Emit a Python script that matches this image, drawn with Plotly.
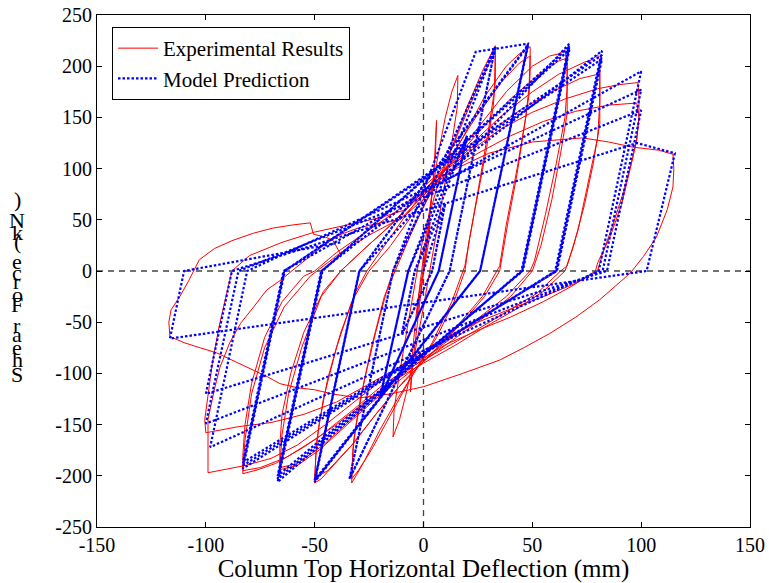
import plotly.graph_objects as go

# ---------------- data ----------------
x_ticks = [-150, -100, -50, 0, 50, 100, 150]
y_ticks = [-250, -200, -150, -100, -50, 0, 50, 100, 150, 200, 250]

exp_small = [(0, 0), (1.5, 25), (3, 48), (2.5, 30), (0.5, 5), (-1.5, -22), (-3, -45), (-2.5, -28), (-0.5, -3),
             (2, 38), (4.5, 85), (6, 147), (5.5, 115), (4, 80), (2, 35), (0, 0), (-2, -38), (-4.5, -82),
             (-6, -118), (-5.5, -90), (-3.5, -45), (-1, 0), (2, 48), (6, 105), (10, 150), (13, 175),
             (15.8, 191), (15.5, 160), (13, 125), (9, 75), (5, 25), (3, 0), (0, -35), (-4, -80), (-8, -120),
             (-11, -145), (-14, -162), (-13.5, -135), (-11, -100), (-7, -50), (-4, -12), (-3, 0)]
exp_c33 = [(0, 35), (6, 80), (12, 115), (20, 160), (27, 195), (31, 212), (33, 220), (33, 185), (32, 160),
           (29, 120), (25, 75), (21, 30), (19, 0), (14, -30), (6, -65), (-3, -95), (-12, -125), (-20, -155),
           (-27, -185), (-31, -200), (-33, -207), (-32.5, -175), (-31, -150), (-27, -105), (-22, -60),
           (-17, -20), (-14, 0), (-8, 30), (0, 62), (8, 95), (16, 135), (24, 175), (30, 202), (33, 214),
           (32.5, 175), (30, 140), (26, 90), (22, 40), (19, 5), (13, -30), (4, -70), (-6, -105), (-15, -140),
           (-24, -175), (-30, -195), (-33, -203), (-32, -165), (-29, -125), (-24, -75), (-18, -25), (-13, 0)]
exp_c50 = [(-6, 35), (2, 72), (10, 100), (18, 130), (28, 170), (38, 200), (44, 212), (49, 219), (49, 195),
           (48.5, 172), (46, 135), (43, 95), (39, 50), (36, 15), (35, 0), (28, -25), (18, -50), (8, -72),
           (-3, -95), (-12, -115), (-22, -140), (-32, -168), (-42, -192), (-47, -203), (-50, -207),
           (-49.5, -180), (-48, -150), (-44, -105), (-38, -60), (-31, -20), (-26, 0), (-18, 25), (-8, 55),
           (2, 82), (12, 110), (24, 150), (36, 185), (44, 203), (49, 210), (48.5, 180), (47, 150), (43, 100),
           (38, 45), (35, 5), (27, -25), (15, -55), (3, -82), (-8, -105), (-20, -135), (-33, -170),
           (-44, -195), (-50, -202), (-49, -165), (-46, -125), (-40, -75), (-33, -30), (-25, 0)]
exp_c66 = [(-15, 25), (-5, 55), (5, 85), (14, 110), (25, 140), (38, 175), (50, 200), (58, 210), (62, 212),
           (65, 216), (66, 200), (66, 154), (63, 115), (59, 70), (54, 25), (50, 0), (40, -25), (28, -45),
           (15, -65), (2, -85), (-10, -105), (-22, -125), (-35, -150), (-48, -175), (-58, -190), (-66, -194),
           (-66, -170), (-65, -140), (-61, -100), (-55, -60), (-46, -20), (-38, 0), (-28, 20), (-15, 45),
           (0, 78), (12, 103), (25, 135), (40, 168), (53, 192), (62, 205), (66, 208), (66, 180), (65, 150),
           (61, 105), (56, 55), (51, 10), (49, 0), (38, -25), (24, -48), (10, -70), (-4, -92), (-18, -115),
           (-32, -143), (-46, -170), (-58, -188), (-66, -192), (-65, -160), (-62, -120), (-56, -75),
           (-47, -25), (-38, 0)]
exp_c82 = [(-28, 20), (-15, 45), (-3, 72), (8, 96), (20, 120), (35, 150), (50, 175), (62, 192), (70, 200),
           (74, 204), (77, 206), (80, 211), (81, 205), (81, 186), (81, 144), (78, 105), (74, 65), (69, 25),
           (65, 0), (55, -20), (42, -38), (28, -55), (15, -72), (0, -90), (-12, -105), (-25, -125),
           (-40, -150), (-55, -172), (-68, -188), (-76, -194), (-83, -198), (-83, -180), (-82, -150),
           (-79, -110), (-73, -65), (-65, -30), (-55, -5), (-50, 0), (-40, 18), (-25, 40), (-10, 62), (3, 88),
           (15, 108), (30, 135), (45, 158), (60, 176), (72, 188), (80, 192), (81, 195), (81, 165), (80, 130),
           (76, 90), (71, 40), (66, 5), (63, 0), (52, -22), (38, -40), (24, -58), (10, -75), (-5, -93),
           (-18, -110), (-32, -135), (-48, -162), (-63, -182), (-75, -192), (-83, -195), (-82, -165),
           (-79, -120), (-73, -75), (-64, -35), (-52, -5), (-49, 0)]
exp_c100 = [(-38, 18), (-25, 35), (-10, 52), (2, 78), (10, 98), (22, 118), (35, 138), (50, 155), (65, 168),
            (80, 178), (90, 182), (98.5, 184), (99, 170), (99, 150), (98, 128), (95, 100), (91, 65), (86, 35),
            (80, 8), (79, 0), (68, -15), (55, -30), (40, -45), (25, -58), (10, -72), (0, -85), (-10, -92),
            (-20, -108), (-32, -128), (-45, -150), (-58, -170), (-70, -183), (-82, -190), (-90, -193),
            (-99, -197), (-99, -170), (-99, -145), (-96, -115), (-93.5, -94), (-89, -70), (-84, -51),
            (-78, -35), (-72, -18.5), (-65, -8), (-60, 1), (-50, 18), (-41.5, 33), (-30, 42), (-20, 47),
            (-10.8, 50), (0, 70), (10, 95), (25, 115), (40, 132), (55, 146), (70, 156), (85, 162), (98, 164),
            (99, 150), (98, 130), (96, 110), (92, 78), (87, 45), (82, 15), (80, 0), (70, -12), (55, -25),
            (40, -37), (25, -50), (10, -65), (-2, -80), (-12, -95), (-25, -110), (-40, -128), (-55, -140),
            (-70, -148), (-85, -152), (-100, -158), (-100.5, -145), (-99, -120), (-97, -90), (-94, -55),
            (-90, -20), (-88, 0), (-80, 15), (-65, 28), (-50, 38), (-35, 45), (-20, 52), (-8, 60)]
exp_c115 = [(-8, 60), (5, 85), (15, 100), (30, 115), (50, 126), (73, 130), (85, 126), (96, 121), (108, 118),
            (114.6, 114), (115, 100), (114.6, 82), (112, 60), (107, 33), (101, 14), (95, -2), (88, -15),
            (81, -28), (70, -45), (58, -61), (46, -75), (35, -87), (18, -100), (0, -113), (-15, -120),
            (-30, -124), (-42, -120), (-50, -116), (-58, -114), (-66, -110), (-72, -103), (-80, -95),
            (-87.5, -87), (-95, -80), (-102.6, -75), (-110, -70), (-116.5, -64), (-117, -50), (-116, -38),
            (-112, -25), (-108, -10), (-103, 11), (-96, 22), (-87.5, 30), (-78, 37), (-69, 42), (-60, 45),
            (-52, 47), (-50.6, 36), (-45, 33), (-41.6, 30), (-38, 16)]

# Model prediction (blue), vertices of the piecewise-linear model
model_path = [(0, 0),
              (10, 66), (4, 0), (-10, -62), (-4, 0),
              (10, 66), (4, 0), (-10, -62), (-4, 0),
              (20, 132), (7, 0), (-20, -124), (-7, 0),
              (20, 132), (7, 0), (-20, -124), (-7, 0),
              (33, 219), (12, 0), (-34, -203), (-14, 0),
              (33, 219), (12, 0), (-34, -203), (-14, 0),
              (33, 219), (12, 0), (-34, -203), (-14, 0),
              (24, 214), (48, 222), (26, 0), (-50, -206), (-29.4, 0),
              (48, 221), (26, 0), (-50, -205), (-29.4, 0),
              (48, 220), (26, 0), (-50, -204), (-29.5, 0),
              (67, 222), (45, 0), (-67, -206), (-46.4, 0),
              (67, 219), (45.3, 0), (-67, -203), (-46.7, 0),
              (67, 216), (45.6, 0), (-67, -200), (-47, 0),
              (82, 215), (60.5, 0), (-83, -193), (-63.7, 0),
              (82, 211), (61, 0), (-83, -190), (-64, 0),
              (82, 207), (61.3, 0), (-83, -187), (-64.3, 0),
              (100, 195), (80.5, 0), (-98, -172), (-81, 0),
              (100, 177), (82.3, 0), (-100, -149), (-85, 0),
              (100, 157), (84.3, 0), (-100, -120), (-88, 0),
              (98, 125), (115.5, 115), (102.5, 0), (-116.5, -66), (-110, 0), (-38, 28)]

series_names = ["Experimental Results", "Model Prediction"]
x_title = "Column Top Horizontal Deflection (mm)"
y_title = "Shear Force (kN)"

# ---------------- build ----------------
exp_all = exp_small + exp_c33 + exp_c50 + exp_c66 + exp_c82 + exp_c100 + exp_c115
ex = [p[0] for p in exp_all]
ey = [p[1] for p in exp_all]
mx = [p[0] for p in model_path]
my = [p[1] for p in model_path]

FONT = "Liberation Serif"
fig = go.Figure()
fig.add_trace(go.Scatter(x=ex, y=ey, mode="lines", name=series_names[0],
                         line=dict(color="#ff0000", width=1)))
# dashed reference lines through the origin
fig.add_trace(go.Scatter(x=[-150, 150], y=[0, 0], mode="lines", showlegend=False, hoverinfo="skip",
                         line=dict(color="#444444", width=1.3, dash="6px,5px")))
fig.add_trace(go.Scatter(x=[0, 0], y=[-250, 250], mode="lines", showlegend=False, hoverinfo="skip",
                         line=dict(color="#444444", width=1.3, dash="6px,5px")))
fig.add_trace(go.Scatter(x=mx, y=my, mode="lines", name=series_names[1],
                         line=dict(color="#0000ff", width=2.2, dash="2.5px,2px")))

# target plot area in window pixels: x 97..750, y 15..527
W, H = 769, 583
PL, PR, PT, PB = 97, 750, 15, 527
L, T, R, B = PL, PT, W - PR, H - PB
pw, ph = PR - PL, PB - PT

axis_common = dict(showline=True, linecolor="black", linewidth=1, mirror="ticks", ticks="inside",
                   ticklen=5, tickcolor="black", showgrid=False, zeroline=False, automargin=False,
                   tickfont=dict(family=FONT, size=20, color="black"))
fig.update_xaxes(range=[-150, 150], tickvals=x_ticks, ticktext=[str(v) for v in x_ticks],
                 title=dict(text=x_title, font=dict(family=FONT, size=25, color="black"), standoff=6),
                 **axis_common)
fig.update_yaxes(range=[-250, 250], tickvals=y_ticks, ticktext=[str(v) for v in y_ticks], **axis_common)

# y label drawn as stacked upright characters (as in the original)
ylab_chars = list(y_title)[::-1]
ylab_px = [199, 220, 232, 241, None, 261, 272, 281, 294, 304, None, 325, 334, 347, 359, 374]
annotations = []
for ch, py in zip(ylab_chars, ylab_px):
    if py is None or ch == " ":
        continue
    annotations.append(dict(text=ch, x=(17 - PL) / pw, y=1 - (py - PT) / ph, xref="paper", yref="paper",
                            showarrow=False, xanchor="center", yanchor="middle",
                            font=dict(family=FONT, size=22, color="black")))

fig.update_layout(width=W, height=H, margin=dict(l=L, r=R, t=T, b=B, autoexpand=False),
                  plot_bgcolor="white", paper_bgcolor="white",
                  font=dict(family=FONT, size=20, color="black"),
                  annotations=annotations,
                  legend=dict(x=(112 - PL) / pw, y=1 - (27 - PT) / ph, xanchor="left", yanchor="top",
                              bgcolor="white", bordercolor="black", borderwidth=1,
                              font=dict(family=FONT, size=21, color="black"),
                              tracegroupgap=0, itemwidth=40))

fig.write_html("out.html", config={"displayModeBar": False},
               post_script="document.body.style.margin='0';")
